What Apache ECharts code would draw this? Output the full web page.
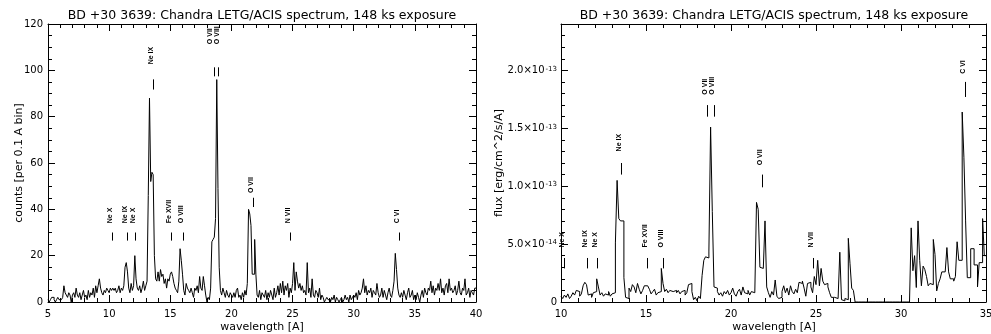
<!DOCTYPE html>
<html><head><meta charset="utf-8">
<script src="https://cdn.jsdelivr.net/npm/echarts@6/dist/echarts.min.js"></script>
<style>html,body{margin:0;padding:0;background:#fff}#c{width:991px;height:334px}</style>
</head><body><div id="c"></div>
<script>
// ---------------- data ----------------
const titleText = 'BD +30 3639: Chandra LETG/ACIS spectrum, 148 ks exposure';
const binWidth = 0.1;

// Left panel: counts per 0.1 A bin, bins starting at 5.0 A
const leftStart = 5.0, leftEnd = 40;
const leftCounts = [
  1,0,1,2,2,1,0,1,2,1,        // 5
  1,1,2,7,4,3,2,4,3,0,        // 6
  3,4,2,6,3,2,4,1,3,5,        // 7
  2,3,1,5,2,4,3,6,2,7,        // 8
  4,7,10,6,4,3,5,4,6,5,       // 9
  4,6,5,6,5,6,4,5,7,4,        // 10
  6,5,7,15,17,13,6,4,8,5,     // 11
  7,20,10,6,5,7,4,6,9,5,      // 12
  7,9,46,88,52,56,55,20,10,9, // 13
  13,9,14,11,12,8,10,6,10,9,  // 14
  12,13,11,8,6,5,4,9,23,18,   // 15
  12,5,3,8,6,5,4,6,4,2,       // 16
  6,5,7,4,11,6,5,11,7,3,      // 17
  0,2,1,6,26,27,28,36,96,49,  // 18
  15,5,3,6,4,2,5,3,2,4,       // 19
  3,2,4,2,5,6,2,3,1,4,        // 20
  2,5,3,8,40,38,33,12,12,27,  // 21
  12,3,2,5,1,4,3,2,5,1,       // 22
  4,2,5,3,1,6,2,4,7,3,        // 23
  8,4,9,3,7,5,8,2,6,4,        // 24
  8,17,5,13,9,6,8,5,7,4,      // 25
  5,3,17,4,6,2,10,3,2,5,      // 26
  4,2,6,1,3,2,0,1,2,1,        // 27
  1,0,2,1,3,0,2,1,0,1,        // 28
  2,0,1,3,1,2,0,3,1,2,        // 29
  3,2,4,1,5,3,4,6,10,4,       // 30
  7,3,5,4,6,2,5,4,3,8,        // 31
  4,2,3,6,2,5,3,1,4,6,        // 32
  3,2,5,9,21,14,6,3,2,4,      // 33
  2,5,3,1,4,6,2,3,5,1,        // 34
  3,1,4,2,0,3,5,2,6,4,        // 35
  3,6,5,9,4,7,3,6,5,8,        // 36
  5,10,4,6,3,7,8,4,10,5,      // 37
  6,4,5,7,3,5,9,4,3,6,        // 38
  5,10,3,4,6,2,5,4,3,6        // 39
];

// Right panel: flux in units of 1e-14 erg/cm^2/s/A, bins starting at 10.0 A
const rightStart = 10.0, rightEnd = 35;
const rightFluxE14 = [
  0.5,0.3,0.6,0.4,0.7,0.3,0.5,0.8,0.6,1.0,   // 10
  0.9,0.5,0.7,1.4,1.7,1.5,0.6,0.7,0.4,0.8,   // 11
  0.9,2.0,1.3,0.6,0.8,0.5,0.7,0.6,0.9,0.5,   // 12
  0.7,0.8,5.1,10.5,7.2,7.0,7.0,2.1,0.4,0.3,  // 13
  1.2,0.9,1.5,1.3,0.8,1.6,1.1,0.7,1.0,1.4,   // 14
  1.4,1.3,1.1,0.7,0.9,1.1,0.6,0.8,0.9,2.9,   // 15
  1.6,0.9,1.1,0.8,1.0,0.9,0.9,1.0,0.8,1.0,   // 16
  0.7,0.9,1.0,0.6,0.8,1.5,1.6,0.9,0.2,0.4,   // 17
  0.1,0.5,0.3,2.3,3.6,3.9,3.8,4.4,15.1,7.8,  // 18
  1.3,1.2,0.9,0.6,0.8,0.5,0.9,0.7,1.0,0.6,   // 19
  0.8,1.2,0.7,0.5,0.9,1.1,0.6,1.3,0.8,0.7,   // 20
  1.0,0.6,0.9,0.8,0.8,8.6,8.0,3.0,2.9,2.9,   // 21
  7.0,1.3,0.8,0.4,0.9,0.6,1.9,0.5,0.3,0.4,   // 22
  0.9,1.4,0.8,1.2,0.6,1.4,0.9,0.7,1.1,0.8,   // 23
  1.7,1.6,1.8,1.2,0.5,1.6,1.7,1.3,0.8,2.2,   // 24
  1.5,3.6,1.4,2.9,1.8,1.5,1.6,1.3,0.8,0.4,   // 25
  0.4,0.5,0.3,0.4,4.3,0.2,0.1,0.3,0.2,5.5,   // 26
  3.3,1.2,1.0,0,0,0,0,0,0,0,                 // 27
  0,0,0,0,0,0,0,0,0,0,                       // 28
  0,0,0,0,0,0,0,0,0,0,                       // 29
  0,0,0,0,0,0,6.4,2.7,4.0,1.25,              // 30
  7.0,3.6,1.4,3.1,2.8,2.2,1.4,1.6,1.5,5.4,   // 31
  4.1,0.96,1.6,2.0,2.6,2.6,2.6,4.7,2.6,2.0,  // 32
  2.0,1.8,2.2,5.2,3.6,3.6,16.4,12.5,7.0,2.1, // 33
  2.1,4.6,4.6,3.2,3.2,1.3,3.4,3.4,7.2,4.0    // 34
];

// Tick labels
const leftXTickInterval = 5, leftYTickInterval = 20;
const rightYTickValues = [0, 5, 10, 15, 20];
const rightYTickMantissa = ['0', '5.0', '1.0', '1.5', '2.0'];
const rightYTickExponent = ['', '-14', '-13', '-13', '-13'];

// Line identifications (left panel, counts units)
const leftLineNames  = ['Ne X','Ne IX','Ne X','Ne IX','Fe XVII','O VIII','O VII','O VIII','O VII','N VII','C VI'];
const leftLineWaves  = [10.2, 11.5, 12.1, 13.55, 15.05, 16.0, 18.55, 18.88, 21.75, 24.8, 33.7];
const leftLabelWaves = [10.2, 11.5, 12.1, 13.55, 15.05, 16.0, 18.45, 18.95, 21.75, 24.8, 33.7];
const leftTickLow    = [26.5, 26.5, 26.5, 91.7, 26.5, 26.5, 97.4, 97.4, 41, 26.5, 26.5];
const leftTickHigh   = [30, 30, 30, 96.1, 30, 30, 101.3, 101.3, 45, 30, 30];
const leftLabelBase  = [34, 34, 34, 102.6, 34, 34, 111.3, 111.3, 47, 34, 34];

// Line identifications (right panel, 1e-14 flux units)
const rightLineNames  = ['Ne X','Ne IX','Ne X','Ne IX','Fe XVII','O VIII','O VII','O VIII','O VII','N VII','C VI'];
const rightLineWaves  = [10.2, 11.5, 12.1, 13.5, 15.05, 16.0, 18.6, 19.0, 21.8, 24.85, 33.75];
const rightLabelWaves = [10.2, 11.5, 12.1, 13.5, 15.05, 16.0, 18.6, 19.0, 21.8, 24.85, 33.75];
const rightTickLow    = [2.9, 2.9, 2.9, 11.0, 2.9, 2.9, 16.0, 16.0, 9.9, 2.9, 17.7];
const rightTickHigh   = [3.8, 3.8, 3.8, 12.0, 3.8, 3.8, 17.0, 17.0, 11.0, 3.8, 19.0];
const rightLabelBase  = [4.7, 4.7, 4.7, 13.0, 4.7, 4.7, 17.9, 17.9, 11.8, 4.7, 19.7];

// ---------------- build ----------------
function histData(start, end, vals) {
  const d = vals.map((v, i) => [+(start + i * binWidth).toFixed(2), v]);
  d.push([end, vals[vals.length - 1]]);
  return d;
}
function lineData(w, lw, lo, hi, base) { return w.map((x, i) => [x, lo[i], hi[i], base[i], lw[i]]); }
function makeRender(names) {
  return function (params, api) {
    const x = api.value(0);
    const p1 = api.coord([x, api.value(1)]);
    const p2 = api.coord([x, api.value(2)]);
    const p3 = api.coord([api.value(4), api.value(3)]);
    const lx = Math.round(p1[0]) + 0.5;
    const tx = Math.round(p3[0]) + 1.5;
    return {
      type: 'group',
      children: [
        { type: 'line', shape: { x1: lx, y1: p1[1], x2: lx, y2: p2[1] },
          style: { stroke: '#000', lineWidth: 1 } },
        { type: 'text', x: tx, y: p3[1], rotation: Math.PI / 2,
          style: { text: names[params.dataIndex], fill: '#000',
                   font: 'bold 7px "Liberation Sans"', align: 'left', verticalAlign: 'bottom' } }
      ]
    };
  };
}

const black = '#000';
const labelFont = { color: black, fontFamily: 'DejaVu Sans', fontSize: 10 };
function xAx(gi, min, max, pos, showLabel) {
  return {
    type: 'value', gridIndex: gi, min: min, max: max, interval: 5, position: pos,
    axisLine: { show: true, onZero: false, lineStyle: { color: black, width: 1 } },
    axisTick: { show: true, inside: true, length: 7, lineStyle: { color: black } },
    minorTick: { show: true, splitNumber: 5, length: 4, lineStyle: { color: black } },
    splitLine: { show: false }, minorSplitLine: { show: false },
    axisLabel: Object.assign({ show: showLabel, margin: 7 }, labelFont)
  };
}
function yAx(gi, min, max, interval, pos, opts) {
  return Object.assign({
    type: 'value', gridIndex: gi, min: min, max: max, interval: interval, position: pos,
    axisLine: { show: true, onZero: false, lineStyle: { color: black, width: 1 } },
    axisTick: { show: true, inside: true, length: 7, lineStyle: { color: black } },
    minorTick: { show: false },
    splitLine: { show: false }, minorSplitLine: { show: false },
    axisLabel: Object.assign({ show: false, margin: 5 }, labelFont)
  }, opts || {});
}

const rightYFormatter = function (v) {
  const i = rightYTickValues.indexOf(Math.round(v * 1000) / 1000);
  if (i < 0) return '';
  if (!rightYTickExponent[i]) return rightYTickMantissa[i];
  return rightYTickMantissa[i] + '×10{s|' + rightYTickExponent[i] + '}';
};

const chart = echarts.init(document.getElementById('c'), null, { renderer: 'canvas' });
chart.setOption({
  animation: false,
  backgroundColor: '#fff',
  grid: [
    { left: 48, top: 24, width: 428, height: 278, containLabel: false, outerBoundsMode: 'none' },
    { left: 561, top: 24, width: 425, height: 278, containLabel: false, outerBoundsMode: 'none' }
  ],
  xAxis: [
    xAx(0, leftStart, leftEnd, 'bottom', true),
    xAx(0, leftStart, leftEnd, 'top', false),
    xAx(1, rightStart, rightEnd, 'bottom', true),
    xAx(1, rightStart, rightEnd, 'top', false)
  ],
  yAxis: [
    yAx(0, 0, 120, leftYTickInterval, 'left', {
      minorTick: { show: true, splitNumber: 4, length: 4, lineStyle: { color: black } },
      axisLabel: Object.assign({ show: true, margin: 5 }, labelFont)
    }),
    yAx(0, 0, 120, leftYTickInterval, 'right', {
      minorTick: { show: true, splitNumber: 4, length: 4, lineStyle: { color: black } }
    }),
    yAx(1, 0, 24, 5, 'left', {
      axisLabel: Object.assign({ show: true, margin: 4, formatter: rightYFormatter,
        rich: { s: { fontSize: 7, fontFamily: 'DejaVu Sans', color: black, verticalAlign: 'top', padding: [0, 0, 0, 1] } }
      }, labelFont)
    }),
    yAx(1, 0, 24, 1, 'left', { axisLine: { show: false, onZero: false }, axisTick: { show: true, inside: true, length: 4, lineStyle: { color: black } } }),
    yAx(1, 0, 24, 5, 'right'),
    yAx(1, 0, 24, 1, 'right', { axisLine: { show: false, onZero: false }, axisTick: { show: true, inside: true, length: 4, lineStyle: { color: black } } })
  ],
  series: [
    { type: 'line', xAxisIndex: 0, yAxisIndex: 0, step: 'end', symbol: 'none', silent: true, clip: true,
      lineStyle: { color: black, width: 1 }, data: histData(leftStart, leftEnd, leftCounts) },
    { type: 'line', xAxisIndex: 2, yAxisIndex: 2, step: 'end', symbol: 'none', silent: true, clip: true,
      lineStyle: { color: black, width: 1 }, data: histData(rightStart, rightEnd, rightFluxE14) },
    { type: 'custom', xAxisIndex: 0, yAxisIndex: 0, silent: true, clip: false, encode: { x: [0, 4], y: [1, 2, 3] },
      renderItem: makeRender(leftLineNames), data: lineData(leftLineWaves, leftLabelWaves, leftTickLow, leftTickHigh, leftLabelBase) },
    { type: 'custom', xAxisIndex: 2, yAxisIndex: 2, silent: true, clip: false, encode: { x: [0, 4], y: [1, 2, 3] },
      renderItem: makeRender(rightLineNames), data: lineData(rightLineWaves, rightLabelWaves, rightTickLow, rightTickHigh, rightLabelBase) }
  ],
  graphic: [
    { type: 'text', x: 262, y: 16, style: { text: titleText, font: '12.5px "DejaVu Sans"', fill: black, align: 'center', verticalAlign: 'middle' } },
    { type: 'text', x: 774, y: 16, style: { text: titleText, font: '12.5px "DejaVu Sans"', fill: black, align: 'center', verticalAlign: 'middle' } },
    { type: 'text', x: 262, y: 327, style: { text: 'wavelength [A]', font: '11px "DejaVu Sans"', fill: black, align: 'center', verticalAlign: 'middle' } },
    { type: 'text', x: 774, y: 327, style: { text: 'wavelength [A]', font: '11px "DejaVu Sans"', fill: black, align: 'center', verticalAlign: 'middle' } },
    { type: 'text', x: 19, y: 163, rotation: Math.PI / 2, style: { text: 'counts [per 0.1 A bin]', font: '11px "DejaVu Sans"', fill: black, align: 'center', verticalAlign: 'middle' } },
    { type: 'text', x: 499, y: 163, rotation: Math.PI / 2, style: { text: 'flux [erg/cm^2/s/A]', font: '11px "DejaVu Sans"', fill: black, align: 'center', verticalAlign: 'middle' } }
  ]
});
</script>
</body></html>
